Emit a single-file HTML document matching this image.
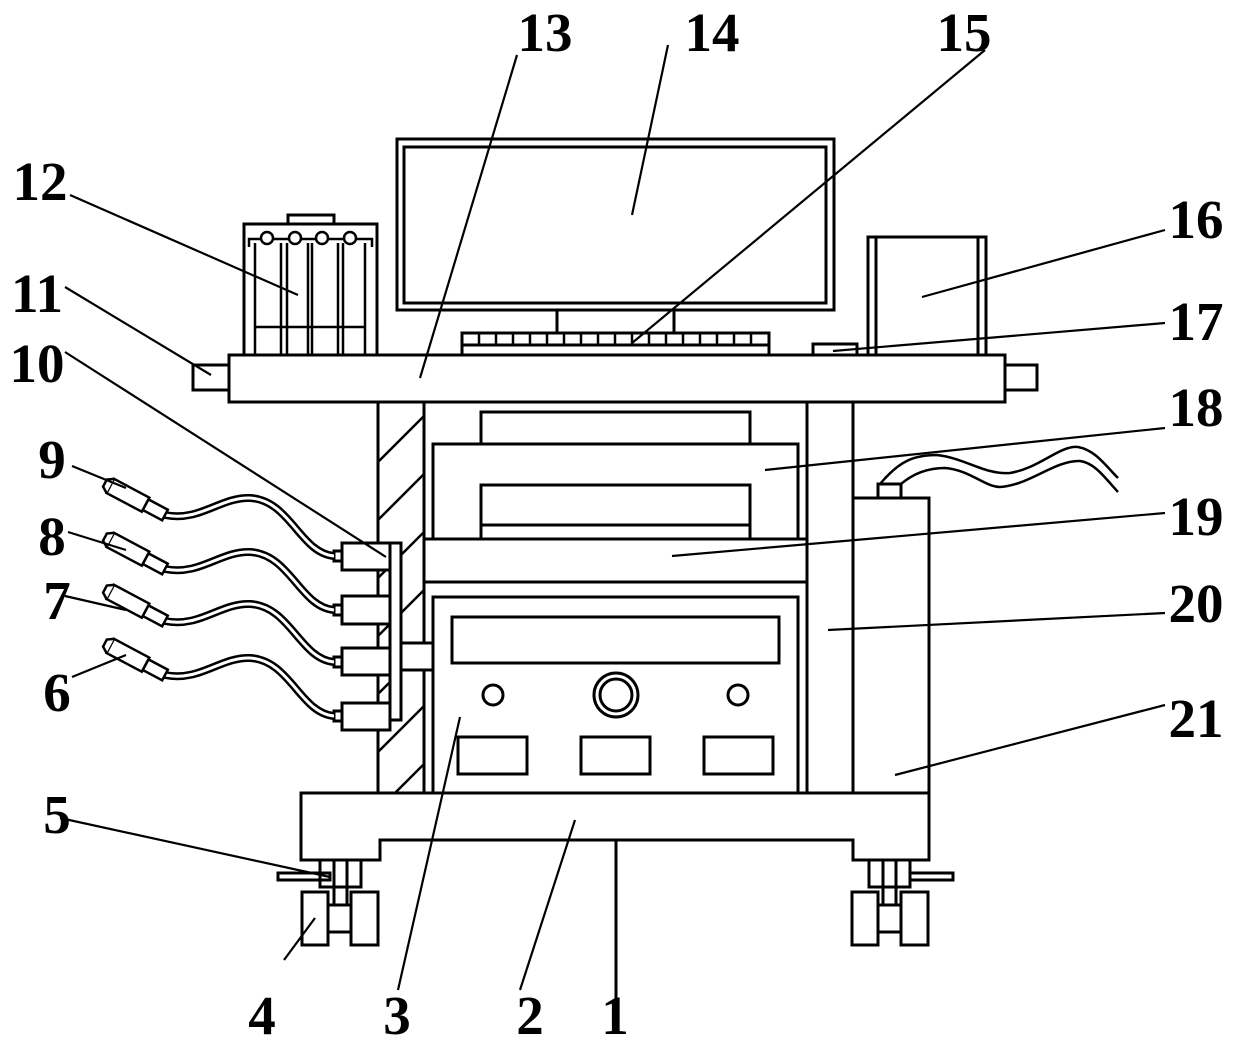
<!DOCTYPE html>
<html><head><meta charset="utf-8"><style>
html,body{margin:0;padding:0;background:#fff;}
svg{display:block;}
text{font-family:"Liberation Serif",serif;font-weight:bold;font-size:55px;fill:#000;}
</style></head><body>
<svg width="1240" height="1041" viewBox="0 0 1240 1041" xmlns="http://www.w3.org/2000/svg">
<defs>
<clipPath id="hc"><rect x="379" y="403" width="45" height="389"/></clipPath>
</defs>
<g fill="none" stroke="#000" stroke-width="3">
<rect x="229" y="355" width="776" height="47" fill="#fff"/>
<rect x="193" y="365" width="36" height="25"/>
<rect x="1005" y="365" width="32" height="25"/>
<rect x="397" y="139" width="437" height="171"/>
<rect x="404" y="147" width="422" height="156"/>
<line x1="557" y1="310" x2="557" y2="333"/>
<line x1="674" y1="310" x2="674" y2="333"/>
<rect x="462" y="333" width="307" height="22"/>
<line x1="462" y1="345" x2="769" y2="345"/>
<g stroke-width="2.5">
<line x1="479" y1="333" x2="479" y2="345"/><line x1="496" y1="333" x2="496" y2="345"/><line x1="513" y1="333" x2="513" y2="345"/><line x1="530" y1="333" x2="530" y2="345"/><line x1="547" y1="333" x2="547" y2="345"/><line x1="564" y1="333" x2="564" y2="345"/><line x1="581" y1="333" x2="581" y2="345"/><line x1="598" y1="333" x2="598" y2="345"/><line x1="615" y1="333" x2="615" y2="345"/><line x1="632" y1="333" x2="632" y2="345"/><line x1="649" y1="333" x2="649" y2="345"/><line x1="666" y1="333" x2="666" y2="345"/><line x1="683" y1="333" x2="683" y2="345"/><line x1="700" y1="333" x2="700" y2="345"/><line x1="717" y1="333" x2="717" y2="345"/><line x1="734" y1="333" x2="734" y2="345"/><line x1="751" y1="333" x2="751" y2="345"/>
</g>
<rect x="868" y="237" width="118" height="118"/>
<line x1="876" y1="237" x2="876" y2="355"/>
<line x1="978" y1="237" x2="978" y2="355"/>
<rect x="813" y="344" width="44" height="11"/>
<rect x="288" y="215" width="46" height="9"/>
<rect x="244" y="224" width="133" height="131"/>
<g stroke-width="2.5">
<line x1="255" y1="243" x2="255" y2="355"/><line x1="281" y1="243" x2="281" y2="355"/><line x1="287" y1="243" x2="287" y2="355"/><line x1="308" y1="243" x2="308" y2="355"/><line x1="312" y1="243" x2="312" y2="355"/><line x1="338" y1="243" x2="338" y2="355"/><line x1="343" y1="243" x2="343" y2="355"/><line x1="365" y1="243" x2="365" y2="355"/>
<line x1="255" y1="327" x2="365" y2="327"/>
<polyline points="249,247 249,239 365,239 372,239 372,247"/>
<circle cx="267" cy="238" r="6" fill="#fff"/><circle cx="295" cy="238" r="6" fill="#fff"/><circle cx="322" cy="238" r="6" fill="#fff"/><circle cx="350" cy="238" r="6" fill="#fff"/>
</g>
<rect x="378" y="402" width="46" height="391"/>
<g clip-path="url(#hc)" stroke-width="2.5">
<line x1="370" y1="470" x2="440" y2="400"/><line x1="370" y1="528" x2="440" y2="458"/><line x1="370" y1="586" x2="440" y2="516"/><line x1="370" y1="644" x2="440" y2="574"/><line x1="370" y1="702" x2="440" y2="632"/><line x1="370" y1="760" x2="440" y2="690"/><line x1="370" y1="818" x2="440" y2="748"/>
</g>
<rect x="390" y="543" width="11" height="177" fill="#fff"/>
<rect x="401" y="643" width="32" height="27" fill="#fff"/>
<rect x="342" y="543" width="48" height="27" fill="#fff"/>
<rect x="342" y="596" width="48" height="28" fill="#fff"/>
<rect x="342" y="648" width="48" height="27" fill="#fff"/>
<rect x="342" y="703" width="48" height="27" fill="#fff"/>
<rect x="334" y="551" width="8" height="10"/><rect x="334" y="605" width="8" height="10"/><rect x="334" y="657" width="8" height="10"/><rect x="334" y="711" width="8" height="10"/>
<line x1="807" y1="402" x2="807" y2="793"/>
<line x1="853" y1="402" x2="853" y2="498"/>
<rect x="481" y="412" width="269" height="32"/>
<rect x="433" y="444" width="365" height="95"/>
<rect x="481" y="485" width="269" height="54"/>
<line x1="481" y1="525" x2="750" y2="525"/>
<line x1="424" y1="539" x2="807" y2="539"/>
<line x1="424" y1="582" x2="807" y2="582"/>
<rect x="433" y="597" width="365" height="196"/>
<rect x="452" y="617" width="327" height="46"/>
<circle cx="493" cy="695" r="10"/>
<circle cx="738" cy="695" r="10"/>
<circle cx="616" cy="695" r="22"/>
<circle cx="616" cy="695" r="16"/>
<rect x="458" y="737" width="69" height="37"/>
<rect x="581" y="737" width="69" height="37"/>
<rect x="704" y="737" width="69" height="37"/>
<rect x="853" y="498" width="76" height="295"/>
<rect x="878" y="484" width="23" height="14"/>
<path d="M880,484 C900,460 915,455 937,455 C965,458 985,475 1010,473 C1040,468 1060,445 1078,447 C1095,450 1105,465 1118,478" stroke-width="2.5"/>
<path d="M901,484 C915,472 930,468 945,468 C970,470 985,487 1000,487 C1030,485 1055,460 1080,461 C1095,463 1105,478 1118,492" stroke-width="2.5"/>
<polygon points="301,793 929,793 929,860 853,860 853,840 380,840 380,860 301,860" fill="#fff"/>
<line x1="616" y1="840" x2="616" y2="1003"/>
<rect x="320" y="860" width="41" height="27"/>
<line x1="334" y1="860" x2="334" y2="905"/><line x1="347" y1="860" x2="347" y2="905"/>
<rect x="278" y="873" width="52" height="7"/>
<rect x="302" y="892" width="26" height="53"/>
<rect x="351" y="892" width="27" height="53"/>
<rect x="328" y="905" width="23" height="27"/>
<rect x="869" y="860" width="41" height="27"/>
<line x1="883" y1="860" x2="883" y2="905"/><line x1="896" y1="860" x2="896" y2="905"/>
<rect x="910" y="873" width="43" height="7"/>
<rect x="852" y="892" width="26" height="53"/>
<rect x="901" y="892" width="27" height="53"/>
<rect x="878" y="905" width="23" height="27"/>
<g>
<path d="M165,515 C200,522 220,497 250,498 C290,500 300,553 334,556" stroke-width="8"/>
<path d="M165,515 C200,522 220,497 250,498 C290,500 300,553 334,556" stroke-width="3" stroke="#fff"/>
<path d="M165,569 C200,576 220,551 250,552 C290,554 300,607 334,610" stroke-width="8"/>
<path d="M165,569 C200,576 220,551 250,552 C290,554 300,607 334,610" stroke-width="3" stroke="#fff"/>
<path d="M165,621 C200,628 220,603 250,604 C290,606 300,659 334,662" stroke-width="8"/>
<path d="M165,621 C200,628 220,603 250,604 C290,606 300,659 334,662" stroke-width="3" stroke="#fff"/>
<path d="M165,675 C200,682 220,657 250,658 C290,660 300,713 334,716" stroke-width="8"/>
<path d="M165,675 C200,682 220,657 250,658 C290,660 300,713 334,716" stroke-width="3" stroke="#fff"/>
</g>
<g stroke-width="2.5" fill="#fff">
<g transform="translate(165,515) rotate(28)"><rect x="-22" y="-6" width="22" height="12"/><rect x="-62" y="-8" width="40" height="16"/><path d="M-62,-8 L-68,-4 L-68,4 L-62,8"/></g>
<g transform="translate(165,569) rotate(28)"><rect x="-22" y="-6" width="22" height="12"/><rect x="-62" y="-8" width="40" height="16"/><path d="M-62,-8 L-68,-4 L-68,4 L-62,8"/></g>
<g transform="translate(165,621) rotate(28)"><rect x="-22" y="-6" width="22" height="12"/><rect x="-62" y="-8" width="40" height="16"/><path d="M-62,-8 L-68,-4 L-68,4 L-62,8"/></g>
<g transform="translate(165,675) rotate(28)"><rect x="-22" y="-6" width="22" height="12"/><rect x="-62" y="-8" width="40" height="16"/><path d="M-62,-8 L-68,-4 L-68,4 L-62,8"/></g>
</g>
<g stroke-width="2.2">
<line x1="517" y1="55" x2="420" y2="378"/>
<line x1="668" y1="45" x2="632" y2="215"/>
<line x1="985" y1="50" x2="632" y2="343"/>
<line x1="70" y1="195" x2="298" y2="295"/>
<line x1="65" y1="287" x2="211" y2="375"/>
<line x1="65" y1="352" x2="386" y2="557"/>
<line x1="72" y1="466" x2="126" y2="488"/>
<line x1="68" y1="532" x2="126" y2="550"/>
<line x1="65" y1="596" x2="126" y2="610"/>
<line x1="72" y1="677" x2="126" y2="655"/>
<line x1="60" y1="818" x2="330" y2="877"/>
<line x1="284" y1="960" x2="315" y2="918"/>
<line x1="398" y1="990" x2="460" y2="717"/>
<line x1="520" y1="990" x2="575" y2="820"/>
<line x1="1165" y1="230" x2="922" y2="297"/>
<line x1="1165" y1="323" x2="833" y2="351"/>
<line x1="1165" y1="428" x2="765" y2="470"/>
<line x1="1165" y1="513" x2="672" y2="556"/>
<line x1="1165" y1="613" x2="828" y2="630"/>
<line x1="1165" y1="705" x2="895" y2="775"/>
</g>
</g>
<g>
<text x="545" y="51" text-anchor="middle">13</text>
<text x="712" y="51" text-anchor="middle">14</text>
<text x="964" y="51" text-anchor="middle">15</text>
<text x="40" y="200" text-anchor="middle">12</text>
<text x="37" y="312" text-anchor="middle">11</text>
<text x="37" y="382" text-anchor="middle">10</text>
<text x="52" y="478" text-anchor="middle">9</text>
<text x="52" y="555" text-anchor="middle">8</text>
<text x="57" y="619" text-anchor="middle">7</text>
<text x="57" y="711" text-anchor="middle">6</text>
<text x="57" y="833" text-anchor="middle">5</text>
<text x="262" y="1034" text-anchor="middle">4</text>
<text x="397" y="1034" text-anchor="middle">3</text>
<text x="530" y="1034" text-anchor="middle">2</text>
<text x="615" y="1034" text-anchor="middle">1</text>
<text x="1196" y="238" text-anchor="middle">16</text>
<text x="1196" y="340" text-anchor="middle">17</text>
<text x="1196" y="426" text-anchor="middle">18</text>
<text x="1196" y="535" text-anchor="middle">19</text>
<text x="1196" y="622" text-anchor="middle">20</text>
<text x="1196" y="737" text-anchor="middle">21</text>
</g>
</svg>
</body></html>
